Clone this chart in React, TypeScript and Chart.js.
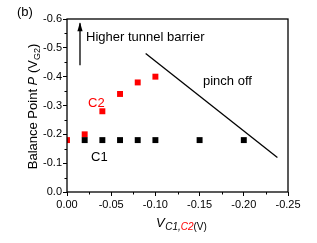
import React, { useEffect, useRef } from "react";
import { Chart, registerables } from "chart.js";

Chart.register(...registerables);

const c1X = [-0.02, -0.04, -0.06, -0.08, -0.1, -0.15, -0.2];
const c1Y = [-0.18, -0.18, -0.18, -0.18, -0.18, -0.18, -0.18];
const c2X = [0.0, -0.02, -0.04, -0.06, -0.08, -0.1];
const c2Y = [-0.18, -0.2, -0.28, -0.34, -0.38, -0.4];
const pinchX = [-0.089, -0.238];
const pinchY = [-0.48, -0.12];
const arrowX = [-0.0147, -0.0147];
const arrowY = [-0.44, -0.585];
const xTicks = [0, -0.05, -0.1, -0.15, -0.2, -0.25];
const yTicks = [0, -0.1, -0.2, -0.3, -0.4, -0.5, -0.6];

const FONT = "Arial, 'Liberation Sans', sans-serif";

const decor = {
  id: "decor",
  afterDatasetsDraw(chart: any) {
    const { ctx, chartArea: a, scales } = chart;
    const xs = scales.x;
    const ys = scales.y;
    ctx.save();
    // frame
    ctx.strokeStyle = "#000";
    ctx.lineWidth = 1.3;
    ctx.strokeRect(a.left, a.top, a.right - a.left, a.bottom - a.top);
    // minor ticks
    ctx.lineWidth = 1;
    ctx.beginPath();
    for (let i = 0; i < xTicks.length - 1; i++) {
      const v = (xTicks[i] + xTicks[i + 1]) / 2;
      const px = Math.round(xs.getPixelForValue(v)) + 0.5;
      ctx.moveTo(px, a.bottom);
      ctx.lineTo(px, a.bottom + 2.5);
    }
    for (let i = 0; i < yTicks.length - 1; i++) {
      const v = (yTicks[i] + yTicks[i + 1]) / 2;
      const py = Math.round(ys.getPixelForValue(v)) + 0.5;
      ctx.moveTo(a.left, py);
      ctx.lineTo(a.left - 2.5, py);
    }
    ctx.stroke();
    // arrow head
    const ax = xs.getPixelForValue(arrowX[1]);
    const ay = ys.getPixelForValue(arrowY[1]);
    ctx.fillStyle = "#000";
    ctx.beginPath();
    ctx.moveTo(ax, ay - 1);
    ctx.lineTo(ax - 2.6, ay + 8);
    ctx.lineTo(ax + 2.6, ay + 8);
    ctx.closePath();
    ctx.fill();

    // texts
    ctx.textBaseline = "alphabetic";
    ctx.textAlign = "left";
    ctx.fillStyle = "#000";
    ctx.font = `13px ${FONT}`;
    ctx.fillText("(b)", 17, 16);
    ctx.fillText("Higher tunnel barrier", 86, 40.5);
    ctx.fillText("pinch off", 203, 85);
    ctx.fillText("C1", 91, 160.5);
    ctx.fillStyle = "#ff0000";
    ctx.fillText("C2", 88, 106.5);

    // x title
    let x = 156;
    ctx.fillStyle = "#000";
    ctx.font = `italic 13px ${FONT}`;
    ctx.fillText("V", x, 227);
    x += ctx.measureText("V").width + 0.5;
    ctx.font = `italic 10px ${FONT}`;
    ctx.fillText("C1,", x, 230);
    x += ctx.measureText("C1,").width;
    ctx.fillStyle = "#ff0000";
    ctx.fillText("C2", x, 230);
    x += ctx.measureText("C2").width;
    ctx.fillStyle = "#000";
    ctx.font = `10px ${FONT}`;
    ctx.fillText("(V)", x, 230);

    // y title (rotated)
    const parts: [string, string, number][] = [
      ["Balance Point ", `13px ${FONT}`, 0],
      ["P", `italic 13px ${FONT}`, 0],
      [" (V", `13px ${FONT}`, 0],
      ["G2", `9px ${FONT}`, 3],
      [")", `13px ${FONT}`, 0],
    ];
    let total = 0;
    for (const p of parts) {
      ctx.font = p[1];
      total += ctx.measureText(p[0]).width;
    }
    ctx.translate(37, (a.top + a.bottom) / 2 + 1);
    ctx.rotate(-Math.PI / 2);
    let tx = -total / 2;
    for (const p of parts) {
      ctx.font = p[1];
      ctx.fillText(p[0], tx, p[2]);
      tx += ctx.measureText(p[0]).width;
    }
    ctx.restore();
  },
};

export default function App() {
  const ref = useRef<HTMLCanvasElement>(null);
  useEffect(() => {
    if (!ref.current) return;
    const chart = new Chart(ref.current, {
      type: "scatter",
      data: {
        datasets: [
          {
            label: "pinch",
            data: pinchX.map((v, i) => ({ x: v, y: pinchY[i] })),
            showLine: true,
            borderColor: "#000",
            borderWidth: 1.3,
            pointRadius: 0,
          },
          {
            label: "arrow",
            data: arrowX.map((v, i) => ({ x: v, y: arrowY[i] })),
            showLine: true,
            borderColor: "#000",
            borderWidth: 1.3,
            pointRadius: 0,
          },
          {
            label: "C1",
            data: c1X.map((v, i) => ({ x: v, y: c1Y[i] })),
            pointStyle: "rect",
            pointRadius: 4.2,
            borderWidth: 0,
            backgroundColor: "#000",
            clip: 0,
          },
          {
            label: "C2",
            data: c2X.map((v, i) => ({ x: v, y: c2Y[i] })),
            pointStyle: "rect",
            pointRadius: 4.2,
            borderWidth: 0,
            backgroundColor: "#ff0000",
            clip: 0,
          },
        ],
      },
      options: {
        animation: false,
        responsive: false,
        layout: { padding: { top: 19, right: 29, left: 0, bottom: 0 } },
        plugins: { legend: { display: false }, tooltip: { enabled: false } },
        scales: {
          x: {
            type: "linear",
            min: -0.25,
            max: 0,
            reverse: true,
            afterBuildTicks: (s: any) => {
              s.ticks = xTicks.map((v) => ({ value: v }));
            },
            afterFit: (s: any) => {
              s.height = 51;
            },
            ticks: {
              callback: (v: any) => Number(v).toFixed(2),
              color: "#000",
              font: { size: 11, family: FONT },
              padding: 2,
              maxRotation: 0,
            },
            grid: { drawOnChartArea: false, tickLength: 4, color: "#000" },
            border: { display: false },
          },
          y: {
            type: "linear",
            min: -0.6,
            max: 0,
            reverse: true,
            afterBuildTicks: (s: any) => {
              s.ticks = yTicks.map((v) => ({ value: v }));
            },
            afterFit: (s: any) => {
              s.width = 67;
            },
            ticks: {
              callback: (v: any) => Number(v).toFixed(1),
              color: "#000",
              font: { size: 11, family: FONT },
              padding: 1,
            },
            grid: { drawOnChartArea: false, tickLength: 4, color: "#000" },
            border: { display: false },
          },
        },
      },
      plugins: [decor],
    });
    return () => chart.destroy();
  }, []);
  return (
    <div style={{ position: "absolute", left: 0, top: 0, width: 317, height: 243 }}>
      <canvas ref={ref} width={317} height={243} />
    </div>
  );
}
